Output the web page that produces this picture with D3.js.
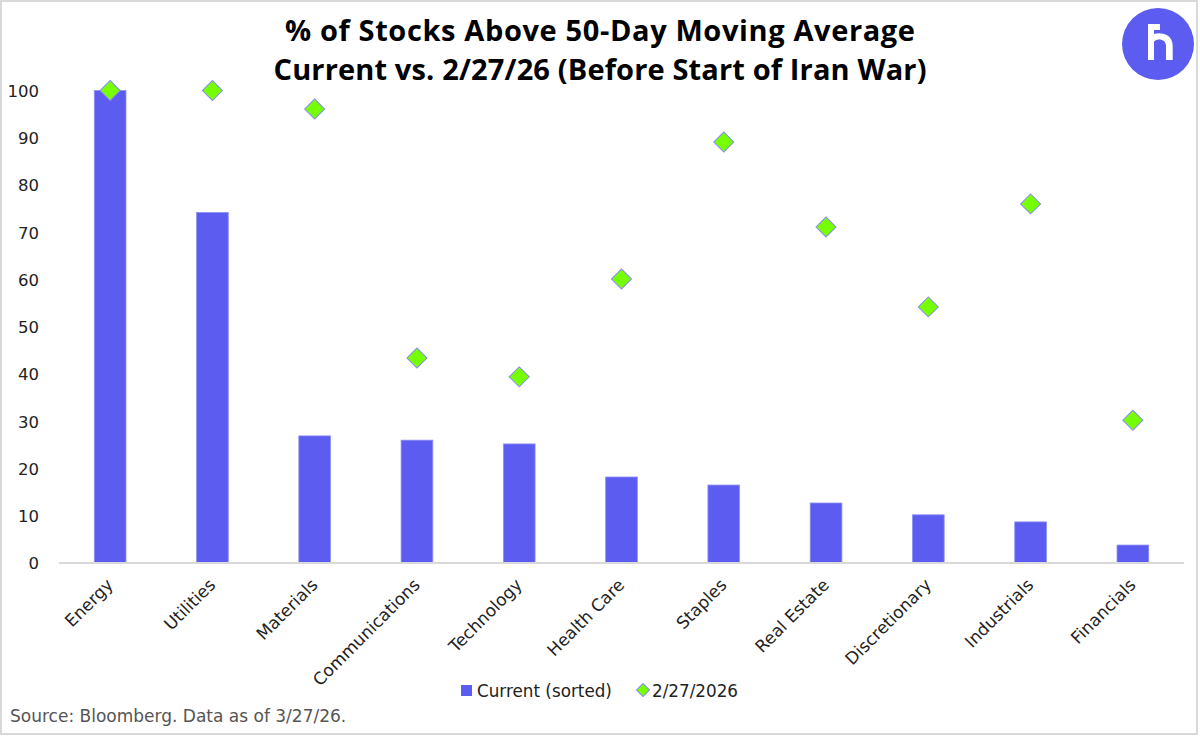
<!DOCTYPE html>
<html><head><meta charset="utf-8">
<script src="https://cdn.jsdelivr.net/npm/d3@7"></script>
<style>
html,body{margin:0;padding:0;background:#fff;}
svg{display:block;}
</style></head>
<body>
<svg id="chart" width="1200" height="736"></svg>
<script>
const categories = ["Energy","Utilities","Materials","Communications","Technology","Health Care","Staples","Real Estate","Discretionary","Industrials","Financials"];
const currentValues = [100, 74.2, 26.9, 26.0, 25.2, 18.2, 16.5, 12.7, 10.2, 8.7, 3.8];
const prevValues = [100, 100, 96.1, 43.4, 39.4, 60.1, 89.1, 71.1, 54.2, 76.0, 30.2];
const yTicks = [0,10,20,30,40,50,60,70,80,90,100];
const seriesNames = ["Current (sorted)", "2/27/2026"];
const titleLines = ["% of Stocks Above 50-Day Moving Average", "Current vs. 2/27/26 (Before Start of Iran War)"];
const sourceText = "Source: Bloomberg. Data as of 3/27/26.";

const W = 1200, H = 736;
const svg = d3.select("#chart");
const BAR = "#5C5CF0", DIA = "#76FF03", GRID = "#d9d9d9";
const tickFont = "'DejaVu Sans', sans-serif";

// frame
svg.append("rect").attr("x",1).attr("y",1).attr("width",1196).attr("height",733)
  .attr("fill","none").attr("stroke",GRID).attr("stroke-width",2);

const x = d3.scaleBand().domain(categories).range([59, 1184]).paddingInner(0.69).paddingOuter(0.345);
const y = d3.scaleLinear().domain([0,100]).range([563, 90.5]);

// title
const titleWidths = [630, 653];
svg.append("g").selectAll("text").data(titleLines).join("text")
  .attr("x", 600).attr("y", (d,i)=> 41 + i*39)
  .attr("text-anchor","middle")
  .attr("font-family","'Open Sans', sans-serif").attr("font-weight",700).attr("font-size",29)
  .attr("textLength",(d,i)=>titleWidths[i]).attr("lengthAdjust","spacing")
  .attr("fill","#000").text(d=>d);

// logo
const logo = svg.append("g").attr("transform","translate(1158,44)");
logo.append("circle").attr("r",36).attr("fill",BAR);
logo.append("path").attr("fill","#fff")
  .attr("d","M-10,-20 H2 V-14 H-4 V16 H-10 Z");
logo.append("path").attr("fill","#fff")
  .attr("d","M-4,-10 C3,-12 14.7,-10 14.7,2 V16 H8 V2 C8,-3 4,-5 0,-4.5 C-2,-4.2 -4,-3 -4,-2 Z");

// y axis
const yAxis = d3.axisLeft(y).tickValues(yTicks).tickSize(0).tickPadding(0);
const yg = svg.append("g").attr("transform","translate(39,0)").call(yAxis);
yg.select(".domain").remove();
yg.selectAll("text").attr("font-family",tickFont).attr("font-size",16.5).attr("fill","#222").attr("dy","0.35em");

// bars
svg.append("g").selectAll("rect").data(categories).join("rect")
  .attr("x", d=>x(d)).attr("width", x.bandwidth())
  .attr("y", (d,i)=>y(currentValues[i])).attr("height",(d,i)=>y(0)-y(currentValues[i]))
  .attr("fill",BAR).attr("stroke","#8f8ff5").attr("stroke-width",0.8);

// baseline axis
const xAxis = d3.axisBottom(x).tickSize(0).tickPadding(0);
const xg = svg.append("g").attr("transform",`translate(0,${y(0)})`).call(xAxis);
xg.select(".domain").attr("stroke",GRID).attr("stroke-width",2).attr("d","M59,0H1184");
xg.selectAll("text")
  .attr("font-family",tickFont).attr("font-size",17).attr("fill","#222")
  .attr("text-anchor","end").attr("dy",null).attr("y",0)
  .attr("transform","translate(4,23) rotate(-45)");

// diamonds
svg.append("g").selectAll("path").data(categories).join("path")
  .attr("transform",(d,i)=>`translate(${x(d)+x.bandwidth()/2},${y(prevValues[i])}) rotate(45)`)
  .attr("d", d3.symbol().type(d3.symbolSquare).size(200)())
  .attr("fill",DIA).attr("stroke","#8a8af0").attr("stroke-width",1);

// legend
const lg = svg.append("g").attr("transform","translate(0,690)");
lg.append("rect").attr("x",461).attr("y",-5).attr("width",11).attr("height",11).attr("fill",BAR);
lg.append("text").attr("x",477).attr("y",7).attr("font-family",tickFont).attr("font-size",16.8).attr("fill","#222").text(seriesNames[0]);
lg.append("path").attr("transform","translate(643,0) rotate(45)").attr("d",d3.symbol().type(d3.symbolSquare).size(85)())
  .attr("fill",DIA).attr("stroke","#8a8af0").attr("stroke-width",1);
lg.append("text").attr("x",652).attr("y",7).attr("font-family",tickFont).attr("font-size",16.8).attr("fill","#222").text(seriesNames[1]);

// source
svg.append("text").attr("x",10).attr("y",722).attr("font-family",tickFont).attr("font-size",17).attr("fill","#555").text(sourceText);
</script>
</body></html>
